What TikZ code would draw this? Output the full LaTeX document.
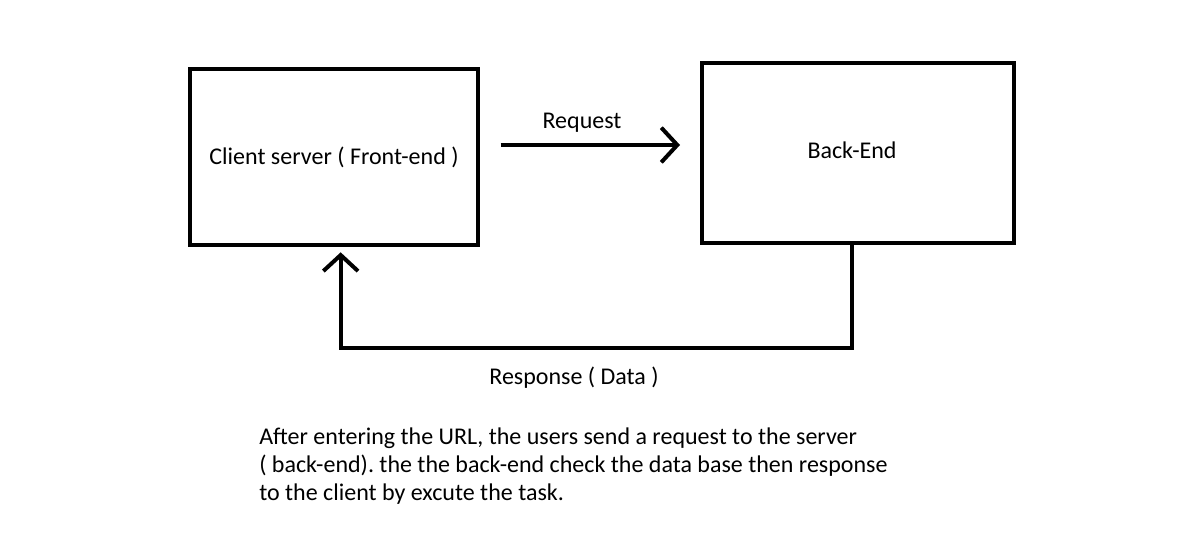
\documentclass[tikz,border=0pt]{standalone}
\usepackage{fontspec}
\setmainfont{Carlito}
\usetikzlibrary{arrows.meta}
\frenchspacing
\begin{document}
\begin{tikzpicture}[x=0.75pt, y=-0.75pt,
    font=\fontsize{18}{21}\selectfont,
    box/.style={rectangle, draw, line width=3pt, inner sep=0pt},
    arrow/.style={line width=3pt, -{Straight Barb[length=12pt, width=26pt, line width=3pt]}}]
    \useasboundingbox (0,0) rectangle (1180,549);
    \node [box, minimum width=216pt, minimum height=132pt] (cl) at (334,157) {Client server ( Front-end )};
    \node [box, minimum width=234pt, minimum height=135pt] (be) at (858,153) {\hspace*{-9pt}\raisebox{4pt}{Back-End}};
    \draw [arrow, shorten <=15.5pt, shorten >=15pt] ([yshift=9pt]cl.east) -- node[above=5pt, xshift=-6pt]{Request} ([yshift=9pt]cl.east -| be.west);
    \draw [arrow, shorten >=4pt] ([xshift=-4.5pt]be.south) -- ++(0,103) -| ([xshift=5pt]cl.south);
    \node (resp) at (574,378) {Response ( Data )};
    \node [anchor=north west, align=left, inner sep=0pt] (note) at (259,428) {After entering the URL, the users send a request to the server\\( back-end). the the back-end check the data base then response\\to the client by excute the task.};
\end{tikzpicture}
\end{document}
